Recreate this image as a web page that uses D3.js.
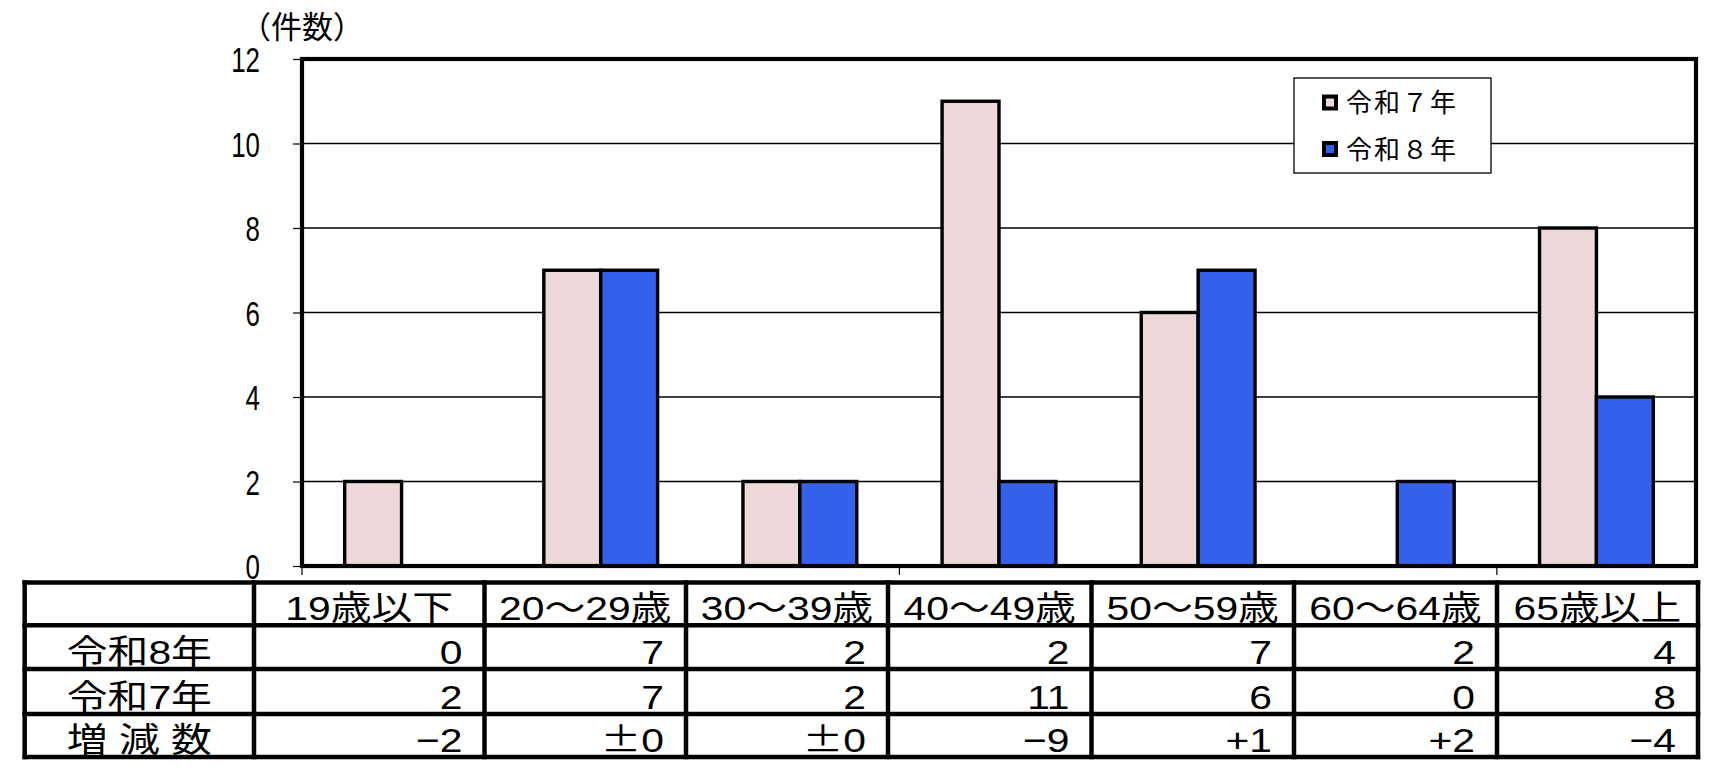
<!DOCTYPE html>
<html><head><meta charset="utf-8">
<script src="https://cdn.jsdelivr.net/npm/d3@7/dist/d3.min.js"></script>
<style>
body{margin:0;background:#fff}
text{font-family:"Liberation Sans","Noto Sans CJK JP",sans-serif;fill:#000}
</style>
</head><body>
<svg id="c" width="1720" height="774"></svg>
<script>
// ---- data ----
const categories = ["19歳以下","20～29歳","30～39歳","40～49歳","50～59歳","60～64歳","65歳以上"];
const seriesNames = ["令和７年","令和８年"];
const r7Values = [2,7,2,11,6,0,8];
const r8Values = [0,7,2,2,7,2,4];
const diffLabels = ["−2","±0","±0","−9","+1","+2","−4"];
const yTicks = [0,2,4,6,8,10,12];
const rowLabels = ["令和8年","令和7年","増 減 数"];
const seriesColors = ["#ECD8D8","#3361EA"];
const yTitle = "（件数）";

// ---- layout ----
const svg = d3.select("#c");
svg.append("rect").attr("width",1720).attr("height",774).attr("fill","#fff");
const P = {l:302, r:1696, t:59, b:566};
const x0 = d3.scaleBand().domain(categories).range([P.l,P.r]);
const x1 = d3.scaleBand().domain(seriesNames).range([0,x0.bandwidth()]).paddingInner(0).paddingOuter(0.75);
const y = d3.scaleLinear().domain([0,12]).range([P.b,P.t]);
const series = [r7Values, r8Values];

// gridlines
svg.append("g").selectAll("line").data(yTicks.filter(d=>d>0&&d<12)).join("line")
  .attr("x1",P.l).attr("x2",P.r).attr("y1",d=>y(d)).attr("y2",d=>y(d))
  .attr("stroke","#000").attr("stroke-width",1.3);

// y axis
const yAxis = svg.append("g").attr("transform",`translate(${P.l},0)`)
  .call(d3.axisLeft(y).tickValues(yTicks).tickSize(9).tickFormat(d3.format("d")));
yAxis.select(".domain").remove();
yAxis.selectAll(".tick line").attr("stroke","#000").attr("stroke-width",1.2);
yAxis.selectAll(".tick text")
  .attr("font-size",35).attr("font-family","'Liberation Sans'")
  .attr("x",-42/0.74).attr("dy","0.36em").attr("text-anchor","end")
  .attr("transform","scale(0.74,1)").attr("fill","#000");

// x ticks every 3 categories
svg.append("g").selectAll("line").data([categories[0],categories[3],categories[6]]).join("line")
  .attr("x1",d=>x0(d)).attr("x2",d=>x0(d)).attr("y1",P.b).attr("y2",P.b+9)
  .attr("stroke","#000").attr("stroke-width",1.2);

// bars
const barData = [];
categories.forEach((c,i)=>seriesNames.forEach((s,j)=>{
  if(series[j][i]>0) barData.push({c,s,v:series[j][i],j});
}));
svg.append("g").selectAll("rect").data(barData).join("rect")
  .attr("x",d=>x0(d.c)+x1(d.s)).attr("width",x1.bandwidth())
  .attr("y",d=>y(d.v)).attr("height",d=>y(0)-y(d.v))
  .attr("fill",d=>seriesColors[d.j]).attr("stroke","#000").attr("stroke-width",3.4);

// plot border
svg.append("rect").attr("x",P.l).attr("y",P.t).attr("width",P.r-P.l).attr("height",P.b-P.t)
  .attr("fill","none").attr("stroke","#000").attr("stroke-width",4.2);

// y title
svg.append("text").attr("x",302).attr("y",27).attr("text-anchor","middle")
  .attr("dominant-baseline","central").attr("font-size",31)
  .attr("font-family","'Noto Sans CJK JP'").text(yTitle);

// legend
const lg = svg.append("g");
lg.append("rect").attr("x",1294).attr("y",78).attr("width",197).attr("height",95)
  .attr("fill","#fff").attr("stroke","#000").attr("stroke-width",1.3);
const legY = [103, 149.5];
seriesNames.forEach((s,j)=>{
  lg.append("rect").attr("x",1324).attr("y",legY[j]-6.5).attr("width",12).attr("height",12)
    .attr("fill",seriesColors[j]).attr("stroke","#000").attr("stroke-width",4);
  lg.append("text").attr("x",1346).attr("y",legY[j]).attr("dominant-baseline","central")
    .attr("font-family","'Noto Sans CJK JP'")
    .attr("font-size",26).attr("letter-spacing",2).text(s);
});

// ---- table ----
const colLines = [24.7,254,484.5,686,888,1091.5,1294,1497,1698];
const rowLines = [582.5,625.3,669,714,757];
const tg = svg.append("g");
colLines.forEach(xv=>tg.append("line").attr("x1",xv).attr("x2",xv)
  .attr("y1",rowLines[0]-2.25).attr("y2",rowLines[4]+2.25).attr("stroke","#000").attr("stroke-width",4.5));
rowLines.forEach(yv=>tg.append("line").attr("x1",colLines[0]-2.25).attr("x2",colLines[8]+2.25)
  .attr("y1",yv).attr("y2",yv).attr("stroke","#000").attr("stroke-width",4.5));

const SX = 1.2, FS = 34;
function cellText(txt,xv,yv,anchor){
  const t = tg.append("text").attr("transform",`translate(${xv},${yv}) scale(${SX},1)`)
    .attr("text-anchor",anchor).attr("font-size",FS);
  if(txt.startsWith("±")){
    t.append("tspan").attr("font-family","'Noto Sans CJK JP'").text("±");
    t.append("tspan").text(txt.slice(1));
  } else t.text(txt);
}
const base = i => rowLines[i+1]-5.5;
categories.forEach((c,i)=>cellText(c,(colLines[i+1]+colLines[i+2])/2,base(0),"middle"));
rowLabels.forEach((l,r)=>cellText(l,(colLines[0]+colLines[1])/2,base(r+1),"middle"));
const rowsData = [r8Values.map(String), r7Values.map(String), diffLabels];
rowsData.forEach((row,r)=>row.forEach((v,i)=>cellText(v,colLines[i+2]-22,base(r+1),"end")));
</script>
</body></html>
